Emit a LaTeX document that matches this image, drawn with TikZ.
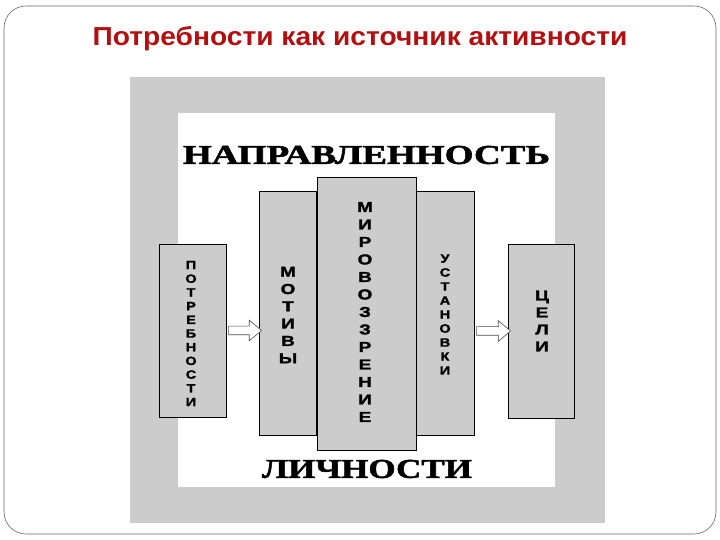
\documentclass[tikz,border=0pt]{standalone}
\usepackage{fontspec}
\setmainfont{Liberation Sans}
\newfontfamily\serifheavy[BoldFeatures={FakeBold=1.6}]{Liberation Serif}
\newfontfamily\sansheavy[BoldFeatures={FakeBold=1.6}]{Liberation Sans}
\usetikzlibrary{shapes.arrows}
\definecolor{titlered}{RGB}{178,16,16}
\definecolor{bandgray}{RGB}{204,204,204}
\definecolor{boxgray}{RGB}{204,204,204}
\tikzset{
  panel/.style={draw=black, line width=0.7pt, fill=boxgray, inner sep=0pt},
  stacksmall/.style={font=\sansheavy\bfseries\fontsize{12}{13.7}\selectfont, align=center, inner sep=0pt, xscale=1.2, transform shape},
  stackbig/.style={font=\sansheavy\bfseries\fontsize{14.5}{17.3}\selectfont, align=center, inner sep=0pt, xscale=1.3, transform shape},
  hollowarrow/.style={single arrow, draw=black!70, fill=white, line width=0.6pt, minimum height=33pt, inner sep=4pt, single arrow head extend=6pt, single arrow tip angle=80},
  heading/.style={inner sep=0pt}
}
\begin{document}
\begin{tikzpicture}[x=1pt,y=1pt]
\useasboundingbox (0,0) rectangle (720,540);
\draw[black!60, line width=0.6pt, rounded corners=22pt] (4,6) rectangle (716,534);
\node[font=\bfseries\fontsize{26}{30}\selectfont, text=titlered, anchor=base, xscale=1.083, transform shape] (title) at (360,494) {Потребности как источник активности};
% grey band and white field
\fill[bandgray] (130,17) rectangle (605,463);
\fill[white] (178,53) rectangle (555,427);
\node[heading] (napr) at (366.5,385) {\resizebox{367pt}{18pt}{\serifheavy\bfseries НАПРАВЛЕННОСТЬ}};
\node[heading] (lich) at (367,71) {\resizebox{210pt}{18pt}{\serifheavy\bfseries ЛИЧНОСТИ}};
% boxes
\node[panel, minimum width=67pt, minimum height=173pt] (potr) at (192.5,209.5) {};
\node[panel, minimum width=57pt, minimum height=244pt] (mot) at (287.5,227) {};
\node[panel, minimum width=58pt, minimum height=244pt] (ust) at (445,227) {};
\node[panel, minimum width=99pt, minimum height=273pt] (mir) at (366.5,226.5) {};
\node[panel, minimum width=66pt, minimum height=174pt] (tse) at (541,209) {};
% texts
\node[stacksmall] (tpotr) at (191,206.5) {П\\О\\Т\\Р\\Е\\Б\\Н\\О\\С\\Т\\И};
\node[stackbig] (tmot) at (288,225) {М\\О\\Т\\И\\В\\Ы};
\node[stackbig, font=\sansheavy\bfseries\fontsize{14.5}{17.5}\selectfont] (tmir) at (365,228) {М\\И\\Р\\О\\В\\О\\З\\З\\Р\\Е\\Н\\И\\Е};
\node[stacksmall, font=\sansheavy\bfseries\fontsize{12}{14}\selectfont] (tust) at (445,225.5) {У\\С\\Т\\А\\Н\\О\\В\\К\\И};
\node[stackbig, font=\sansheavy\bfseries\fontsize{14.5}{17}\selectfont] (ttse) at (542,219) {Ц\\Е\\Л\\И};
% arrows
\path (potr.east) -- (potr.east -| mot.west) node[midway, hollowarrow] (arr1) {};
\path (ust.east |- tse.west) -- (tse.west) node[midway, hollowarrow, minimum height=34pt] (arr2) {};
\end{tikzpicture}
\end{document}
